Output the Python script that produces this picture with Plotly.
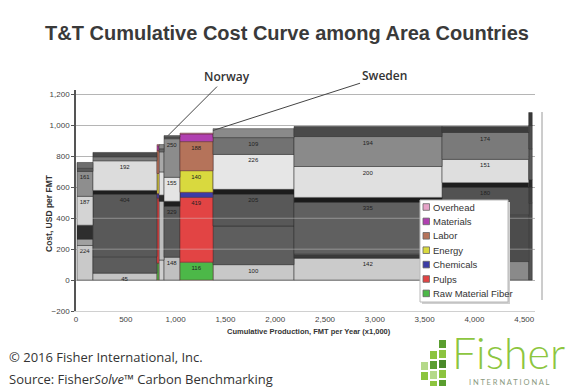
import plotly.graph_objects as go

# ---------------- data ----------------
groups = ["A", "B", "C", "D", "Norway", "T&T", "Sweden", "G", "H", "I"]
capacity = [160, 643, 20, 51, 160, 332, 813, 1486, 870, 35]   # FMT per year (x1,000)
start_offset = 10

categories = ["Raw Material Fiber", "Pulps", "Chemicals", "Energy", "Labor", "Materials", "Overhead"]
fiber     = [224, 45, 110, 130, 148, 116, 100, 142, 120, 200]
pulps     = [41, 106, 420, 380, 329, 419, 250, 26, 300, 300]
chemicals = [90, 404, 30, 40, 33, 33, 205, 335, 180, 100]
energy    = [187, 25, 130, 150, 155, 140, 32, 32, 30, 50]
labor     = [161, 192, 150, 130, 250, 188, 226, 200, 151, 200]
materials = [20, 26, 30, 20, 10, 50, 109, 194, 174, 150]
overhead  = [38, 28, 7, 27, 10, 5, 58, 65, 39, 84]
values = [fiber, pulps, chemicals, energy, labor, materials, overhead]

x_ticks = [0, 500, 1000, 1500, 2000, 2500, 3000, 3500, 4000, 4500]
y_ticks = [-200, 0, 200, 400, 600, 800, 1000, 1200]

# which segments carry a small value label
label_mask = [
    [1, 1, 0, 0, 1, 1, 1, 1, 0, 0],
    [0, 0, 0, 0, 1, 1, 0, 0, 0, 0],
    [0, 1, 0, 0, 0, 0, 1, 1, 1, 0],
    [1, 0, 0, 0, 1, 1, 0, 0, 0, 0],
    [1, 1, 0, 0, 1, 1, 1, 1, 1, 0],
    [0, 0, 0, 0, 0, 0, 1, 1, 1, 0],
    [0, 0, 0, 0, 0, 0, 0, 0, 0, 0],
]
colored_groups = [2, 5]

# ---------------- styles ----------------
cat_colors = ["#4cb848", "#e24444", "#3c3ca6", "#d9d93e", "#b5735a", "#b040b0", "#e6a3c8"]
gray = {
    0: ["#c9c9c9", "#a0a0a0", "#2e2e2e", "#d4d4d4", "#8e8e8e", "#5a5a5a", "#6e6e6e"],
    1: ["#c4c4c4", "#5c5c5c", "#595959", "#1e1e1e", "#dcdcdc", "#7a7a7a", "#4a4a4a"],
    3: ["#cfcfcf", "#bdbdbd", "#2a2a2a", "#e2e2e2", "#a8a8a8", "#666666", "#888888"],
    4: ["#c0c0c0", "#5a5a5a", "#1e1e1e", "#e4e4e4", "#8c8c8c", "#555555", "#6a6a6a"],
    6: ["#c8c8c8", "#5e5e5e", "#585858", "#1c1c1c", "#e6e6e6", "#727272", "#8a8a8a"],
    7: ["#cbcbcb", "#3a3a3a", "#606060", "#1a1a1a", "#e0e0e0", "#8a8a8a", "#4a4a4a"],
    8: ["#8a8a8a", "#4c4c4c", "#525252", "#1e1e1e", "#dedede", "#7a7a7a", "#3c3c3c"],
    9: ["#555555", "#4a4a4a", "#404040", "#2a2a2a", "#5a5a5a", "#4e4e4e", "#3a3a3a"],
}

# positions along the cumulative axis
lefts = []
pos = start_offset
for w in capacity:
    lefts.append(pos)
    pos += w
centers = [l + w / 2 for l, w in zip(lefts, capacity)]

fig = go.Figure()
base = [0] * len(groups)
for k, cat in enumerate(categories):
    vals = values[k]
    txt = [str(v) if m else "" for v, m in zip(vals, label_mask[k])]
    gidx = [i for i in range(len(groups)) if i not in colored_groups]
    fig.add_trace(go.Bar(
        x=[centers[i] for i in gidx], y=[vals[i] for i in gidx],
        base=[base[i] for i in gidx], width=[capacity[i] for i in gidx],
        marker=dict(color=[gray[i][k] for i in gidx], line=dict(width=0.5, color="#2a2a2a")),
        text=[txt[i] for i in gidx], textposition="inside", insidetextanchor="end",
        textfont=dict(size=6, color="#222"), textangle=0,
        showlegend=False, hoverinfo="skip", name=cat))
    fig.add_trace(go.Bar(
        x=[centers[i] for i in colored_groups], y=[vals[i] for i in colored_groups],
        base=[base[i] for i in colored_groups], width=[capacity[i] for i in colored_groups],
        marker=dict(color=cat_colors[k], line=dict(width=0.5, color="#5a2a2a")),
        text=[txt[i] for i in colored_groups], textposition="inside", insidetextanchor="end",
        textfont=dict(size=6, color="#222"), textangle=0,
        showlegend=False, name=cat))
    base = [b + v for b, v in zip(base, vals)]

# page offset (browser body margin) and plot box in reference pixels
OFF = 8
FW, FH = 583 - OFF, 391 - OFF
L, R, T, B = 76, 535, 90, 311
W, H = R - L, B - T
def px(p):
    return (p - L) / W
def py(p):
    return (B - p) / H

xmax = 4608
fig.update_layout(
    width=FW, height=FH,
    margin=dict(l=L - OFF, r=FW - (R - OFF), t=T - OFF, b=FH - (B - OFF), pad=0),
    paper_bgcolor="white", plot_bgcolor="white",
    barmode="overlay", showlegend=False,
    uniformtext=dict(minsize=6, mode="show"),
    title=dict(text="<b>T&T Cumulative Cost Curve among Area Countries</b>",
               x=(287 - OFF) / FW, xanchor="center", y=1 - (33 - OFF) / FH, yanchor="middle",
               font=dict(family="Liberation Sans", size=20, color="#3a3a3a")),
    font=dict(family="Liberation Sans, Arial", color="#333"),
    xaxis=dict(range=[0, xmax], tickvals=x_ticks,
               tickformat=",", tickfont=dict(size=8, color="#444"), showgrid=False,
               zeroline=False, showline=True, linecolor="#d0d0d0", linewidth=1, ticks=""),
    yaxis=dict(range=[-200, 1230], tickvals=y_ticks,
               tickformat=",", tickfont=dict(size=8, color="#444"), showgrid=True,
               gridcolor="#b5b5b5", gridwidth=1, zeroline=False, showline=True,
               linecolor="#555", linewidth=1.5, ticks="outside", ticklen=3, tickcolor="#555"),
)

annotations = [
    dict(x=924, y=935, xref="x", yref="y", text="Norway", showarrow=True, ax=59, ay=-59,
         arrowhead=0, arrowwidth=1, arrowcolor="#444", standoff=0,
         font=dict(family="Open Sans", size=12, color="#333", weight=600)),
    dict(x=1376, y=968, xref="x", yref="y", text="Sweden", showarrow=True, ax=171, ay=-55,
         arrowhead=0, arrowwidth=1, arrowcolor="#444", standoff=0,
         font=dict(family="Open Sans", size=12, color="#333", weight=600)),
    dict(x=px(49), y=py(213), xref="paper", yref="paper", text="<b>Cost, USD per FMT</b>",
         textangle=-90, showarrow=False, xanchor="center", yanchor="middle",
         font=dict(family="Liberation Sans", size=8.5, color="#333")),
    dict(x=px(309), y=py(331), xref="paper", yref="paper",
         text="<b>Cumulative Production, FMT per Year (x1,000)</b>", showarrow=False,
         xanchor="center", yanchor="middle", font=dict(family="Liberation Sans", size=7.5, color="#333")),
    dict(x=px(7), y=py(357), xref="paper", yref="paper", text="© 2016 Fisher International, Inc.",
         showarrow=False, xanchor="left", yanchor="middle",
         font=dict(family="Open Sans", size=13, color="#333")),
    dict(x=px(7), y=py(379), xref="paper", yref="paper",
         text="Source: Fisher<i>Solve</i>™ Carbon Benchmarking",
         showarrow=False, xanchor="left", yanchor="middle",
         font=dict(family="Open Sans", size=13, color="#333")),
    dict(x=px(508), y=py(352), xref="paper", yref="paper", text="Fisher",
         showarrow=False, xanchor="center", yanchor="middle",
         font=dict(family="Lato", size=43, color="#8dc63f", weight=300)),
    dict(x=px(509), y=py(382), xref="paper", yref="paper", text="I N T E R N A T I O N A L",
         showarrow=False, xanchor="center", yanchor="middle",
         font=dict(family="Lato", size=7.5, color="#8a9a80")),
]

shapes = []
# faint gridlines showing through the bars, as in the source
for gy in [200, 400]:
    shapes.append(dict(type="line", xref="paper", yref="y", x0=0, x1=1, y0=gy, y1=gy,
                       layer="above", line=dict(color="rgba(210,210,210,0.45)", width=1)))
# manual legend (Overhead on top)
leg_x0, leg_y0, leg_x1, leg_y1 = 420, 200, 508, 302
shapes.append(dict(type="rect", xref="paper", yref="paper", x0=px(leg_x0 + 2), x1=px(leg_x1 + 2),
                   y0=py(leg_y1 + 2), y1=py(leg_y0 + 2), fillcolor="#cfcfcf", line=dict(width=0)))
shapes.append(dict(type="rect", xref="paper", yref="paper", x0=px(leg_x0), x1=px(leg_x1),
                   y0=py(leg_y1), y1=py(leg_y0), fillcolor="white", line=dict(color="#b8b8b8", width=1)))
for j, k in enumerate(reversed(range(len(categories)))):
    yc = 207 + j * 14.4
    shapes.append(dict(type="rect", xref="paper", yref="paper", x0=px(423), x1=px(429.5),
                       y0=py(yc + 3.3), y1=py(yc - 3.3), fillcolor=cat_colors[k],
                       line=dict(color="#666", width=0.8)))
    annotations.append(dict(x=px(431), y=py(yc), xref="paper", yref="paper", text=categories[k],
                            showarrow=False, xanchor="left", yanchor="middle",
                            font=dict(family="Liberation Sans", size=9.5, color="#333")))

# logo squares and frame line (decoration)
squares = [
    (421, 362, 428, 370, "#b5d98a"), (421, 372, 428, 380, "#8cc43f"),
    (430, 351, 437, 359, "#8cc43f"), (430, 361, 437, 369, "#5a9e2f"), (430, 371, 437, 379, "#b5d98a"),
    (430, 381, 437, 386, "#8cc43f"),
    (439, 340, 446, 348, "#5a9e2f"), (439, 350, 446, 358, "#8cc43f"), (439, 360, 446, 368, "#4a8a2a"),
    (439, 370, 446, 378, "#8cc43f"), (439, 380, 446, 386, "#5a9e2f"),
]
for x0, y0, x1, y1, c in squares:
    shapes.append(dict(type="rect", xref="paper", yref="paper", x0=px(x0), x1=px(x1),
                       y0=py(y1), y1=py(y0), fillcolor=c, line=dict(width=0)))
shapes.append(dict(type="line", xref="paper", yref="paper", x0=px(542), x1=px(542),
                   y0=py(300), y1=py(112), line=dict(color="#9a9a9a", width=1)))

fig.update_layout(annotations=annotations, shapes=shapes)
fig.write_html("out.html")
